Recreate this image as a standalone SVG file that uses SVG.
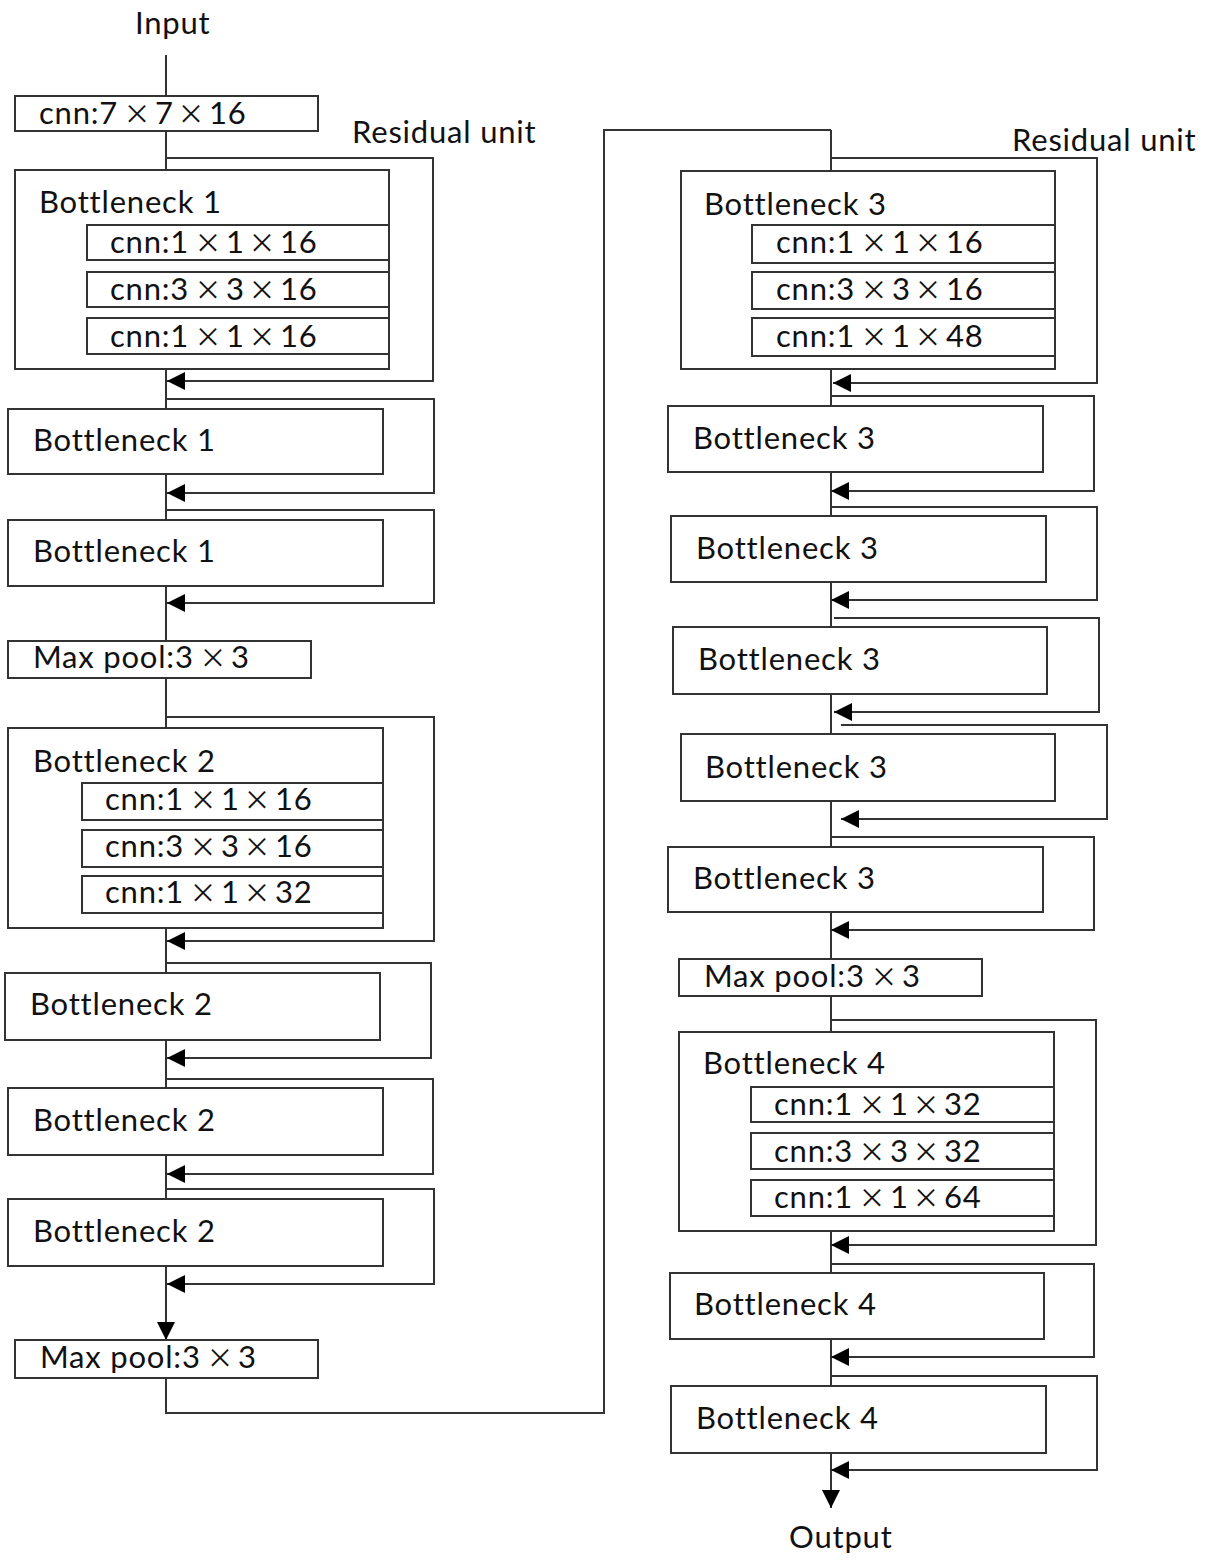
<svg xmlns="http://www.w3.org/2000/svg" width="1213" height="1560" viewBox="0 0 1213 1560">
  <style>
    .box { fill: #fff; stroke: #333; stroke-width: 2; }
    .wire { fill: none; stroke: #333; stroke-width: 2; }
    text { font-family: Lato, "Open Sans", "Liberation Sans", sans-serif; font-size: 31px; letter-spacing: 0.8px; fill: #111; }
    .m { font-family: "Noto Sans CJK SC", "DejaVu Sans", sans-serif; text-anchor: middle; font-size: 27px; letter-spacing: 0; }
  </style>
  <defs>
    <marker id="arrow" viewBox="0 0 18 18" refX="18" refY="9" markerWidth="18" markerHeight="18" markerUnits="userSpaceOnUse" orient="auto">
      <path d="M0,0 L18,9 L0,18 Z" fill="#000"/>
    </marker>
  </defs>
  <rect width="1213" height="1560" fill="#fff"/>

  <!-- connectors -->
  <g id="connectors">
    <!-- left trunk -->
    <path class="wire" d="M166,55 V1340" marker-end="url(#arrow)"/>
    <!-- left residual skips -->
    <path class="wire" d="M166,158 H433 V381 H167" marker-end="url(#arrow)"/>
    <path class="wire" d="M166,399 H434 V493 H167" marker-end="url(#arrow)"/>
    <path class="wire" d="M166,510 H434 V603 H167" marker-end="url(#arrow)"/>
    <path class="wire" d="M166,717 H434 V941 H167" marker-end="url(#arrow)"/>
    <path class="wire" d="M166,963 H431 V1058 H167" marker-end="url(#arrow)"/>
    <path class="wire" d="M166,1079 H433 V1174 H167" marker-end="url(#arrow)"/>
    <path class="wire" d="M166,1189 H434 V1284 H167" marker-end="url(#arrow)"/>
    <!-- bridge to the right column -->
    <path class="wire" d="M166,1378 V1413 H604 V130 H831"/>
    <!-- right trunk -->
    <path class="wire" d="M831,130 V1508" marker-end="url(#arrow)"/>
    <!-- right residual skips -->
    <path class="wire" d="M831,158 H1097 V383 H833" marker-end="url(#arrow)"/>
    <path class="wire" d="M831,396 H1094 V491 H831" marker-end="url(#arrow)"/>
    <path class="wire" d="M831,507 H1097 V600 H831" marker-end="url(#arrow)"/>
    <path class="wire" d="M834,618 H1099 V712 H834" marker-end="url(#arrow)"/>
    <path class="wire" d="M841,725 H1107 V819 H841" marker-end="url(#arrow)"/>
    <path class="wire" d="M831,837 H1094 V930 H831" marker-end="url(#arrow)"/>
    <path class="wire" d="M831,1020 H1096 V1245 H831" marker-end="url(#arrow)"/>
    <path class="wire" d="M831,1264 H1094 V1357 H831" marker-end="url(#arrow)"/>
    <path class="wire" d="M831,1376 H1097 V1470 H831" marker-end="url(#arrow)"/>
  </g>

  <!-- free labels -->
  <g id="labels">
    <text x="135" y="34">Input</text>
    <text x="352" y="143">Residual unit</text>
    <text x="1012" y="151">Residual unit</text>
    <text x="789" y="1548">Output</text>
  </g>

  <!-- left column -->
  <g id="conv-stem">
    <rect class="box" x="15" y="96" width="303" height="35"/>
    <text x="39" y="124">cnn:7<tspan class="m" x="137">×</tspan><tspan x="155">7</tspan><tspan class="m" x="191">×</tspan><tspan x="209">16</tspan></text>
  </g>

  <g id="bottleneck1-a">
    <rect class="box" x="15" y="170" width="374" height="199"/>
    <text x="39" y="213">Bottleneck 1</text>
    <rect class="box" x="87" y="225" width="302" height="35"/>
    <text x="110" y="253">cnn:1<tspan class="m" x="208">×</tspan><tspan x="226">1</tspan><tspan class="m" x="262">×</tspan><tspan x="280">16</tspan></text>
    <rect class="box" x="87" y="272" width="302" height="35"/>
    <text x="110" y="300">cnn:3<tspan class="m" x="208">×</tspan><tspan x="226">3</tspan><tspan class="m" x="262">×</tspan><tspan x="280">16</tspan></text>
    <rect class="box" x="87" y="318" width="302" height="36"/>
    <text x="110" y="347">cnn:1<tspan class="m" x="208">×</tspan><tspan x="226">1</tspan><tspan class="m" x="262">×</tspan><tspan x="280">16</tspan></text>
  </g>

  <g id="bottleneck1-b">
    <rect class="box" x="8" y="409" width="375" height="65"/>
    <text x="33" y="451">Bottleneck 1</text>
  </g>

  <g id="bottleneck1-c">
    <rect class="box" x="8" y="520" width="375" height="66"/>
    <text x="33" y="562">Bottleneck 1</text>
  </g>

  <g id="maxpool-1">
    <rect class="box" x="8" y="641" width="303" height="37"/>
    <text x="33" y="668">Max pool:3<tspan class="m" x="213">×</tspan><tspan x="231">3</tspan></text>
  </g>

  <g id="bottleneck2-a">
    <rect class="box" x="8" y="728" width="375" height="200"/>
    <text x="33" y="772">Bottleneck 2</text>
    <rect class="box" x="82" y="783" width="301" height="37"/>
    <text x="105" y="810">cnn:1<tspan class="m" x="203">×</tspan><tspan x="221">1</tspan><tspan class="m" x="257">×</tspan><tspan x="275">16</tspan></text>
    <rect class="box" x="82" y="830" width="301" height="37"/>
    <text x="105" y="857">cnn:3<tspan class="m" x="203">×</tspan><tspan x="221">3</tspan><tspan class="m" x="257">×</tspan><tspan x="275">16</tspan></text>
    <rect class="box" x="82" y="876" width="301" height="37"/>
    <text x="105" y="903">cnn:1<tspan class="m" x="203">×</tspan><tspan x="221">1</tspan><tspan class="m" x="257">×</tspan><tspan x="275">32</tspan></text>
  </g>

  <g id="bottleneck2-b">
    <rect class="box" x="5" y="973" width="375" height="67"/>
    <text x="30" y="1015">Bottleneck 2</text>
  </g>

  <g id="bottleneck2-c">
    <rect class="box" x="8" y="1088" width="375" height="67"/>
    <text x="33" y="1131">Bottleneck 2</text>
  </g>

  <g id="bottleneck2-d">
    <rect class="box" x="8" y="1199" width="375" height="67"/>
    <text x="33" y="1242">Bottleneck 2</text>
  </g>

  <g id="maxpool-2">
    <rect class="box" x="15" y="1340" width="303" height="38"/>
    <text x="40" y="1368">Max pool:3<tspan class="m" x="220">×</tspan><tspan x="238">3</tspan></text>
  </g>

  <!-- right column -->
  <g id="bottleneck3-a">
    <rect class="box" x="681" y="171" width="374" height="198"/>
    <text x="704" y="215">Bottleneck 3</text>
    <rect class="box" x="752" y="225" width="303" height="38"/>
    <text x="776" y="253">cnn:1<tspan class="m" x="874">×</tspan><tspan x="892">1</tspan><tspan class="m" x="928">×</tspan><tspan x="946">16</tspan></text>
    <rect class="box" x="752" y="272" width="303" height="37"/>
    <text x="776" y="300">cnn:3<tspan class="m" x="874">×</tspan><tspan x="892">3</tspan><tspan class="m" x="928">×</tspan><tspan x="946">16</tspan></text>
    <rect class="box" x="752" y="318" width="303" height="38"/>
    <text x="776" y="347">cnn:1<tspan class="m" x="874">×</tspan><tspan x="892">1</tspan><tspan class="m" x="928">×</tspan><tspan x="946">48</tspan></text>
  </g>

  <g id="bottleneck3-b">
    <rect class="box" x="668" y="406" width="375" height="66"/>
    <text x="693" y="449">Bottleneck 3</text>
  </g>

  <g id="bottleneck3-c">
    <rect class="box" x="671" y="516" width="375" height="66"/>
    <text x="696" y="559">Bottleneck 3</text>
  </g>

  <g id="bottleneck3-d">
    <rect class="box" x="673" y="627" width="374" height="67"/>
    <text x="698" y="670">Bottleneck 3</text>
  </g>

  <g id="bottleneck3-e">
    <rect class="box" x="681" y="734" width="374" height="67"/>
    <text x="705" y="778">Bottleneck 3</text>
  </g>

  <g id="bottleneck3-f">
    <rect class="box" x="668" y="847" width="375" height="65"/>
    <text x="693" y="889">Bottleneck 3</text>
  </g>

  <g id="maxpool-3">
    <rect class="box" x="679" y="959" width="303" height="37"/>
    <text x="704" y="987">Max pool:3<tspan class="m" x="884">×</tspan><tspan x="902">3</tspan></text>
  </g>

  <g id="bottleneck4-a">
    <rect class="box" x="679" y="1032" width="375" height="199"/>
    <text x="703" y="1074">Bottleneck 4</text>
    <rect class="box" x="751" y="1087" width="303" height="35"/>
    <text x="774" y="1115">cnn:1<tspan class="m" x="872">×</tspan><tspan x="890">1</tspan><tspan class="m" x="926">×</tspan><tspan x="944">32</tspan></text>
    <rect class="box" x="751" y="1133" width="303" height="36"/>
    <text x="774" y="1162">cnn:3<tspan class="m" x="872">×</tspan><tspan x="890">3</tspan><tspan class="m" x="926">×</tspan><tspan x="944">32</tspan></text>
    <rect class="box" x="751" y="1180" width="303" height="36"/>
    <text x="774" y="1208">cnn:1<tspan class="m" x="872">×</tspan><tspan x="890">1</tspan><tspan class="m" x="926">×</tspan><tspan x="944">64</tspan></text>
  </g>

  <g id="bottleneck4-b">
    <rect class="box" x="670" y="1273" width="374" height="66"/>
    <text x="694" y="1315">Bottleneck 4</text>
  </g>

  <g id="bottleneck4-c">
    <rect class="box" x="671" y="1386" width="375" height="67"/>
    <text x="696" y="1429">Bottleneck 4</text>
  </g>
</svg>
